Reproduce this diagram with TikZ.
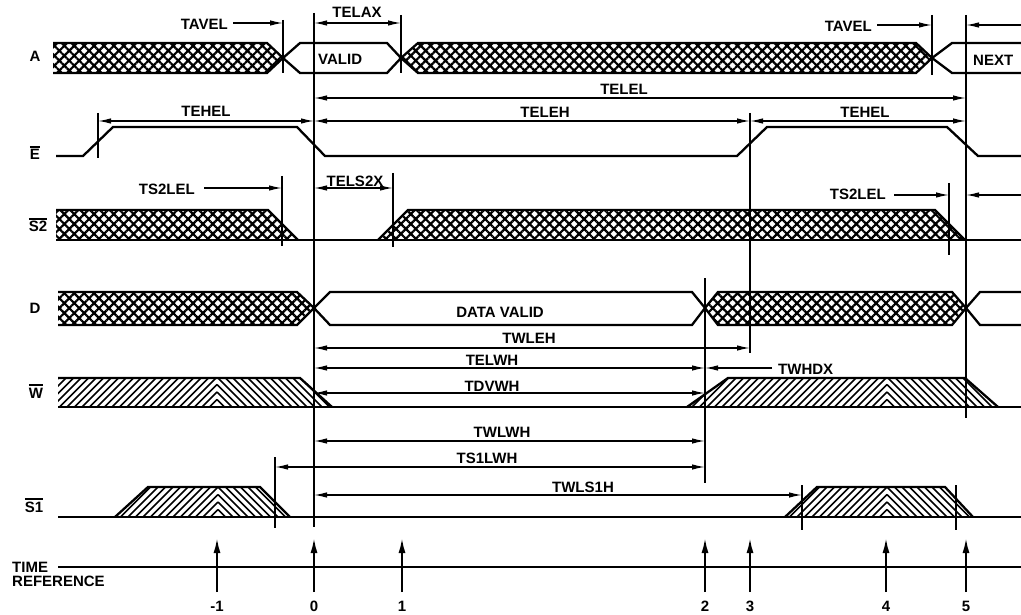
\documentclass[tikz,border=0pt]{standalone}
\usepackage{fontspec}
\setmainfont{Liberation Sans}
\usetikzlibrary{arrows.meta,patterns.meta}
\newcommand\ovl[1]{\leavevmode\vbox{\hrule height 1.8pt\kern 1.6pt\hbox{#1}}}
% chevron hatch: #1 x bottom-left, #2 x top-left, #3 x centre, #4 x top-right, #5 x bottom-right, #6 y top, #7 y bottom
\newcommand\chevfill[7]{%
  \begin{scope}
    \clip (#1,#7) -- (#2,#6) -- (#3,#6) -- (#3,#7) -- cycle;
    \foreach \k in {0,...,40} \draw[hl] (#3,{#7-\k*7.5}) -- ++(-320,320);
  \end{scope}
  \begin{scope}
    \clip (#3,#7) -- (#3,#6) -- (#4,#6) -- (#5,#7) -- cycle;
    \foreach \k in {0,...,40} \draw[hl] (#3,{#7-\k*7.5}) -- ++(320,320);
  \end{scope}}
\begin{document}
\begin{tikzpicture}[x=1pt,y=-1pt,
  >={Latex[length=13pt,width=5.5pt]},
  sig/.style={line width=2.3pt,line join=miter},
  vl/.style={line width=1.7pt},
  dim/.style={line width=1.3pt},
  hl/.style={line width=1.6pt},
  xh/.style={pattern={Hatch[angle=45,distance=7pt,line width=2.2pt]}},
  lab/.style={font=\fontsize{15}{17}\selectfont\bfseries,inner sep=0pt},
  tref/.style={line width=2pt,-{Latex[length=15pt,width=7pt]}}
]
\useasboundingbox (0,0) rectangle (1021,615);

% ---------- row labels
\node[lab,anchor=base] (lA) at (35,62) {A};
\node[lab,anchor=base] (lE) at (35,160) {\ovl{E}};
\node[lab,anchor=base] (lS2) at (38,232) {\ovl{S2}};
\node[lab,anchor=base] (lD) at (35,313) {D};
\node[lab,anchor=base] (lW) at (36,398) {\ovl{W}};
\node[lab,anchor=base] (lS1) at (34,512) {\ovl{S1}};

% ---------- A
\path[xh] (53,43) -- (267,43) -- (283,58) -- (267,73) -- (53,73) -- cycle;
\draw[sig] (53,43) -- (267,43) -- (283,58) -- (267,73) -- (53,73);
\draw[sig] (283,58) -- (300,43) -- (387,43) -- (401,58) -- (387,73) -- (300,73) -- cycle;
\path[xh] (401,58) -- (418,43) -- (916,43) -- (932,58) -- (916,73) -- (418,73) -- cycle;
\draw[sig] (401,58) -- (418,43) -- (916,43) -- (932,58) -- (916,73) -- (418,73) -- cycle;
\draw[sig] (1021,43) -- (952,43) -- (932,58) -- (952,73) -- (1021,73);

% ---------- E
\draw[sig] (56,156) -- (83,156) -- (113,127) -- (297,127) -- (325,156) -- (737,156)
  -- (767,127) -- (947,127) -- (978,156) -- (1021,156);

% ---------- S2
\path[xh] (56,210) -- (268,210) -- (298,240) -- (56,240) -- cycle;
\draw[sig] (56,210) -- (268,210) -- (298,240);
\path[xh] (378,240) -- (408,210) -- (935,210) -- (965,240) -- cycle;
\draw[sig] (378,240) -- (408,210) -- (935,210) -- (965,240);
\draw[sig] (56,240) -- (1021,240);

% ---------- D
\path[xh] (58,292) -- (297,292) -- (314,308) -- (297,325) -- (58,325) -- cycle;
\draw[sig] (58,292) -- (297,292) -- (314,308) -- (297,325) -- (58,325);
\draw[sig] (314,308) -- (330,292) -- (692,292) -- (705,308) -- (692,325) -- (330,325) -- cycle;
\path[xh] (705,308) -- (718,292) -- (952,292) -- (966,308) -- (952,325) -- (718,325) -- cycle;
\draw[sig] (705,308) -- (718,292) -- (952,292) -- (966,308) -- (952,325) -- (718,325) -- cycle;
\draw[sig] (1021,292) -- (980,292) -- (966,308) -- (980,325) -- (1021,325);

% ---------- W
\chevfill{58}{58}{217}{300}{332}{378}{407}
\draw[sig] (58,378) -- (300,378) -- (332,407);
\chevfill{687}{728}{887}{965}{998}{378}{407}
\draw[sig] (687,407) -- (728,378) -- (965,378) -- (998,407);
\draw[sig] (58,407) -- (1021,407);

% ---------- S1
\chevfill{115}{148}{218}{260}{290}{487}{517}
\draw[sig] (115,517) -- (148,487) -- (260,487) -- (290,517);
\chevfill{785}{817}{887}{945}{973}{487}{517}
\draw[sig] (785,517) -- (817,487) -- (945,487) -- (973,517);
\draw[sig] (58,517) -- (1021,517);

% ---------- vertical reference lines
\draw[vl] (314,13) -- (314,527);
\draw[vl] (283,20) -- (283,73);
\draw[vl] (401,15) -- (401,73);
\draw[vl] (932,15) -- (932,75);
\draw[vl] (966,15) -- (966,418);
\draw[vl] (98,113) -- (98,158);
\draw[vl] (750,113) -- (750,353);
\draw[vl] (282,176) -- (282,246);
\draw[vl] (393,173) -- (393,247);
\draw[vl] (949,183) -- (949,255);
\draw[vl] (705,278) -- (705,483);
\draw[vl] (275,457) -- (275,528);
\draw[vl] (802,485) -- (802,530);
\draw[vl] (956,485) -- (956,530);

% ---------- dimension arrows
\draw[dim,->] (233,23) -- (283,23);
\draw[dim,<->] (314,23) -- (401,23);
\draw[dim,->] (877,25) -- (932,25);
\draw[dim,->] (1021,25) -- (966,25);
\draw[dim,<->] (314,98) -- (966,98);
\draw[dim,<->] (98,121) -- (314,121);
\draw[dim,<->] (314,121) -- (750,121);
\draw[dim,<->] (750,121) -- (966,121);
\draw[dim,->] (204,188) -- (282,188);
\draw[dim,<->] (314,188) -- (393,188);
\draw[dim,->] (894,195) -- (949,195);
\draw[dim,->] (1021,195) -- (966,195);
\draw[dim,<->] (314,348) -- (750,348);
\draw[dim,<->] (314,368) -- (705,368);
\draw[dim,->] (772,368) -- (705,368);
\draw[dim,<->] (314,393) -- (705,393);
\draw[dim,<->] (314,441) -- (705,441);
\draw[dim,<->] (275,467) -- (705,467);
\draw[dim,<->] (314,495) -- (802,495);

% ---------- labels
\node[lab,anchor=base east] (tavel1) at (228,30) {TAVEL};
\node[lab,anchor=base] (telax) at (357,18) {TELAX};
\node[lab,anchor=base east] (tavel2) at (872,32) {TAVEL};
\node[lab,anchor=base west] (valid) at (318,65) {VALID};
\node[lab,anchor=base west] (next) at (973,66) {NEXT};
\node[lab,anchor=base] (telel) at (624,95) {TELEL};
\node[lab,anchor=base] (tehel1) at (206,117) {TEHEL};
\node[lab,anchor=base] (teleh) at (545,118) {TELEH};
\node[lab,anchor=base] (tehel2) at (865,118) {TEHEL};
\node[lab,anchor=base east] (ts2lel1) at (195,195) {TS2LEL};
\node[lab,anchor=base] (tels2x) at (355,186) {TELS2X};
\node[lab,anchor=base east] (ts2lel2) at (886,200) {TS2LEL};
\node[lab,anchor=base] (dv) at (500,317) {DATA VALID};
\node[lab,anchor=base] (twleh) at (529,343) {TWLEH};
\node[lab,anchor=base] (telwh) at (492,365) {TELWH};
\node[lab,anchor=base west] (twhdx) at (778,374) {TWHDX};
\node[lab,anchor=base] (tdvwh) at (492,391) {TDVWH};
\node[lab,anchor=base] (twlwh) at (502,437) {TWLWH};
\node[lab,anchor=base] (ts1lwh) at (487,463) {TS1LWH};
\node[lab,anchor=base] (twls1h) at (583,492) {TWLS1H};

% ---------- time reference
\node[lab,anchor=base west] (time) at (12,572) {TIME};
\node[lab,anchor=base west] (ref) at (12,586) {REFERENCE};
\draw[sig] (58,567) -- (1021,567);
\foreach \x/\n [count=\i] in {217/-1,314/0,402/1,705/2,750/3,886/4,966/5}{
  \draw[tref] (\x,592) -- (\x,538);
  \node[lab,anchor=base] (num\i) at (\x,611) {\n};
}
\end{tikzpicture}
\end{document}
